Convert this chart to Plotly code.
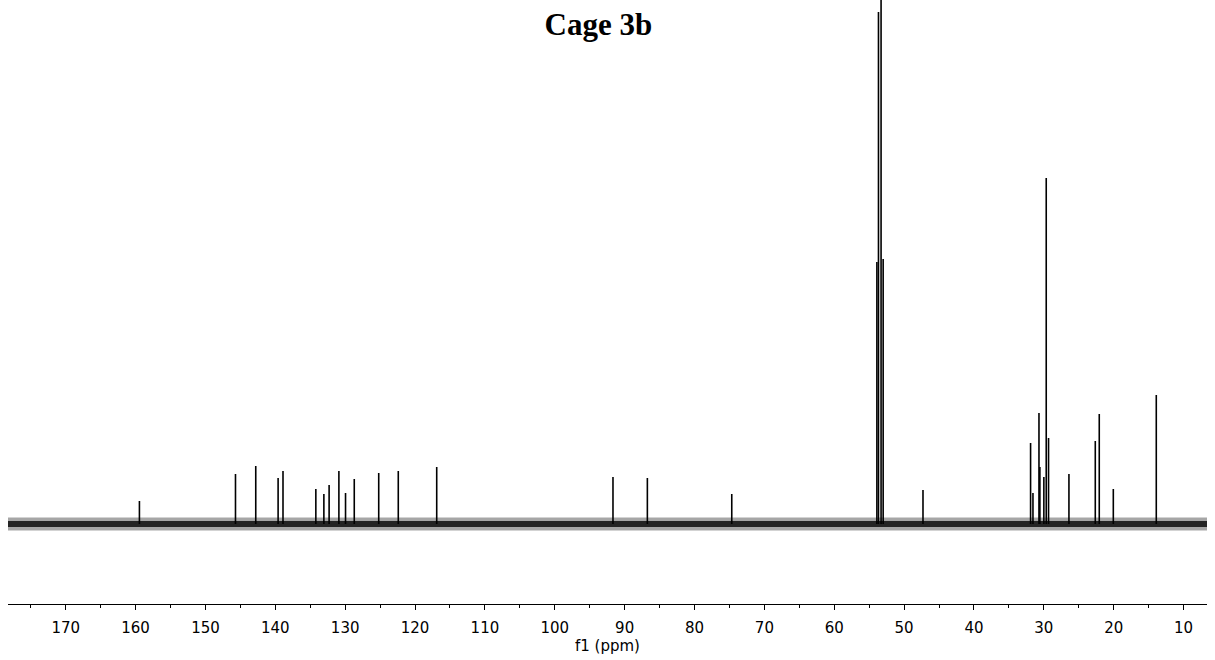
import plotly.graph_objects as go

# Peak positions (ppm) and intensities (arbitrary units)
peak_ppm = [159.45, 145.7, 142.8, 139.6, 138.9, 134.2, 133.05, 132.3, 130.9, 129.95,
            128.7, 125.2, 122.4, 116.9, 91.67, 86.75, 74.67,
            53.9, 53.67, 53.3, 53.0, 47.3,
            31.9, 31.56, 30.7, 30.57, 30.0, 29.66, 29.33, 26.41, 22.64, 22.07, 20.06, 13.91]
peak_int = [23, 50, 58, 46, 53, 35, 30, 39, 53, 31,
            45, 51, 53, 57, 47, 46, 30,
            262, 512, 700, 265, 34,
            81, 31, 111, 57, 47, 346, 86, 50, 83, 110, 35, 129]

ppm_range = [178.26, 6.65]
tick_vals = [170, 160, 150, 140, 130, 120, 110, 100, 90, 80, 70, 60, 50, 40, 30, 20, 10]
tick_text = [str(v) for v in tick_vals]

# Build stick spectrum from the data
xs, ys = [], []
for p, h in zip(peak_ppm, peak_int):
    xs += [p, p, None]
    ys += [0, h, None]

fig = go.Figure()
# baseline noise band: soft outer band + darker core
fig.add_trace(go.Scatter(x=ppm_range, y=[0, 0], mode="lines",
                         line=dict(color="rgba(0,0,0,0.35)", width=13),
                         hoverinfo="skip", showlegend=False))
fig.add_trace(go.Scatter(x=ppm_range, y=[0, 0], mode="lines",
                         line=dict(color="rgba(0,0,0,0.78)", width=6),
                         hoverinfo="skip", showlegend=False))
fig.add_trace(go.Scatter(x=xs, y=ys, mode="lines",
                         line=dict(color="black", width=1.6),
                         showlegend=False))

fig.update_layout(
    width=1215, height=660,
    margin=dict(l=8, r=8, t=0, b=56),
    paper_bgcolor="white", plot_bgcolor="white",
    title=dict(text="<b>Cage 3b</b>", x=598.4 / 1215, xref="container", xanchor="center",
               y=1 - 24 / 660, yref="container", yanchor="middle",
               font=dict(family="Liberation Serif", size=31, color="black")),
    xaxis=dict(range=ppm_range, showline=True, linecolor="black", linewidth=1,
               showgrid=False, zeroline=False, ticks="outside", ticklen=5, tickwidth=1,
               tickcolor="black", tickvals=tick_vals, ticktext=tick_text,
               ticklabelstandoff=5,
               tickfont=dict(family="DejaVu Sans", size=15, color="black"),
               minor=dict(tickmode="linear", tick0=5, dtick=10, ticks="outside", ticklen=3,
                          tickcolor="black", tickwidth=1, showgrid=False),
               title=dict(text="f1 (ppm)", standoff=0,
                          font=dict(family="DejaVu Sans", size=15, color="black"))),
    yaxis=dict(range=[-80, 524], visible=False, showgrid=False, zeroline=False),
)

fig.write_html("out.html")
